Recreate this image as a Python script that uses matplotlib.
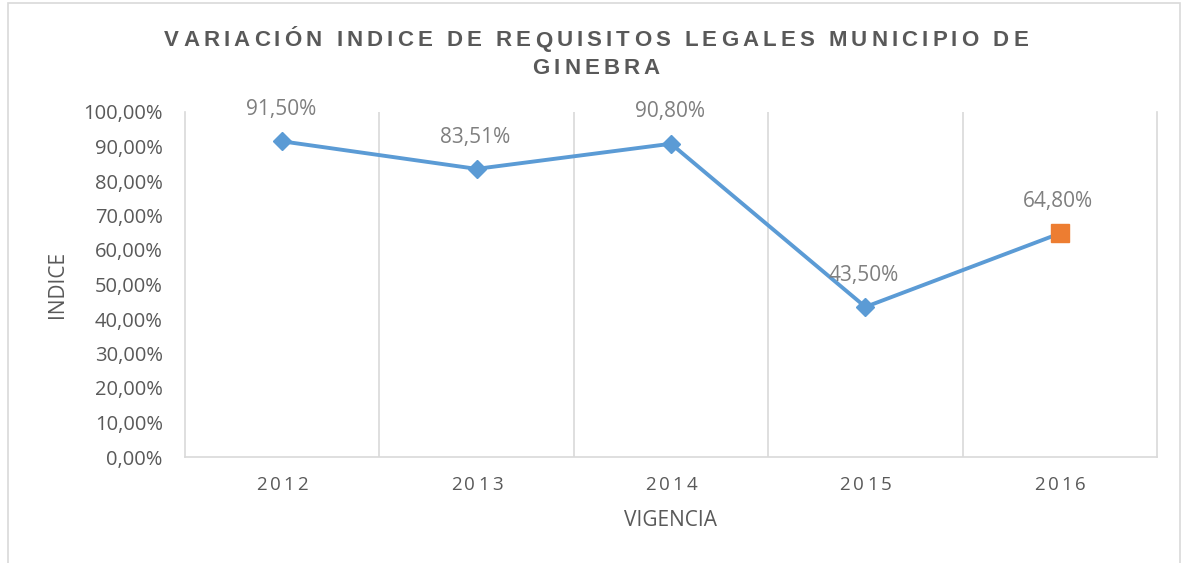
import matplotlib
matplotlib.use('Agg')
import matplotlib.pyplot as plt
from matplotlib.patches import Rectangle
from matplotlib.transforms import IdentityTransform
from matplotlib.font_manager import FontProperties, findfont, get_font

# data
years = ['2012', '2013', '2014', '2015', '2016']
indice = [0.915, 0.8351, 0.908, 0.435, 0.648]
labels = ['91,50%', '83,51%', '90,80%', '43,50%', '64,80%']
yticks = [i / 10 for i in range(11)]
ytick_labels = [f'{v * 100:.2f}%'.replace('.', ',') for v in yticks]
title_lines = ['VARIACIÓN INDICE DE REQUISITOS LEGALES MUNICIPIO DE', 'GINEBRA']

BLUE = '#5B9BD5'
ORANGE = '#ED7D31'
GREY_TXT = '#595959'
GRID = '#D9D9D9'
W, H = 1188, 563

plt.rcParams['font.family'] = ['Open Sans', 'DejaVu Sans']

fig = plt.figure(figsize=(W / 100, H / 100), dpi=100)
ax = fig.add_axes([185 / W, 1 - 457 / H, (1157 - 185) / W, (457 - 112) / H])


def tracked_text(s, cx, y_img, track, family, size, weight='normal', color=GREY_TXT):
    """draw s centred at cx (pixels) with extra letter spacing, baseline at y_img"""
    fp = FontProperties(family=family, weight=weight, size=size)
    font = get_font(findfont(fp))
    font.set_size(size, fig.dpi)
    adv = [font.load_char(ord(c)).linearHoriAdvance / 65536 for c in s]
    total = sum(adv) + track * (len(s) - 1)
    x = cx - total / 2
    for c, a in zip(s, adv):
        if c != ' ':
            fig.text(x, H - y_img, c, transform=IdentityTransform(), ha='left',
                     va='baseline', fontproperties=fp, color=color)
        x += a + track


# outer chart frame
fig.patches.append(Rectangle((8 / W, -0.05), (1180 - 8) / W, 1 - 3 / H + 0.05,
                             transform=fig.transFigure, fill=False, ec=GRID, lw=1.2))

x = list(range(len(years)))
ax.plot(x, indice, color=BLUE, lw=2.8, zorder=3)
ax.plot(x[:-1], indice[:-1], ls='none', marker='D', ms=9.5, color=BLUE, zorder=4)
ax.plot(x[-1:], indice[-1:], ls='none', marker='s', ms=12.5, color=ORANGE, zorder=4)

for xi, yi, lab in zip(x, indice, labels):
    ax.annotate(lab, (xi, yi), xytext=(-1, 19), textcoords='offset points',
                ha='center', va='baseline', fontsize=15, color='#7F7F7F')

ax.set_xlim(-0.5, len(years) - 0.5)
ax.set_ylim(0, 1)
ax.set_yticks(yticks)
ax.set_yticklabels(ytick_labels, fontsize=14.5, color=GREY_TXT)
ax.set_xticks(x)
ax.set_xticklabels([])
ax.tick_params(length=0)
ax.tick_params(axis='y', pad=16)

# vertical category separators
for b in [i + 0.5 for i in range(len(years) - 1)]:
    ax.axvline(b, color=GRID, lw=1.2, zorder=1)
ax.spines['top'].set_visible(False)
for side in ['left', 'right', 'bottom']:
    ax.spines[side].set_color(GRID)
    ax.spines[side].set_linewidth(1.2)

ax.set_xlabel('VIGENCIA', fontsize=15, color=GREY_TXT)
ax.xaxis.set_label_coords(0.5, (457 - 520) / 345)
ax.xaxis.label.set_va('center')
ax.set_ylabel('INDICE', fontsize=15, color=GREY_TXT)
ax.yaxis.set_label_coords((57 - 185) / 972, 0.5)
ax.yaxis.label.set_va('center')

# letter-spaced year labels under each category
for xi, yr in zip(x, years):
    px = ax.transData.transform((xi, 0))[0]
    tracked_text(yr, px, 490, 3.0, 'Open Sans', 13.5)

# letter-spaced bold title
tracked_text(title_lines[0], 596, 46.5, 4.1, 'Liberation Sans', 16, 'bold')
tracked_text(title_lines[1], 596, 74.5, 4.1, 'Liberation Sans', 16, 'bold')

fig.savefig('out.png', dpi=100)
